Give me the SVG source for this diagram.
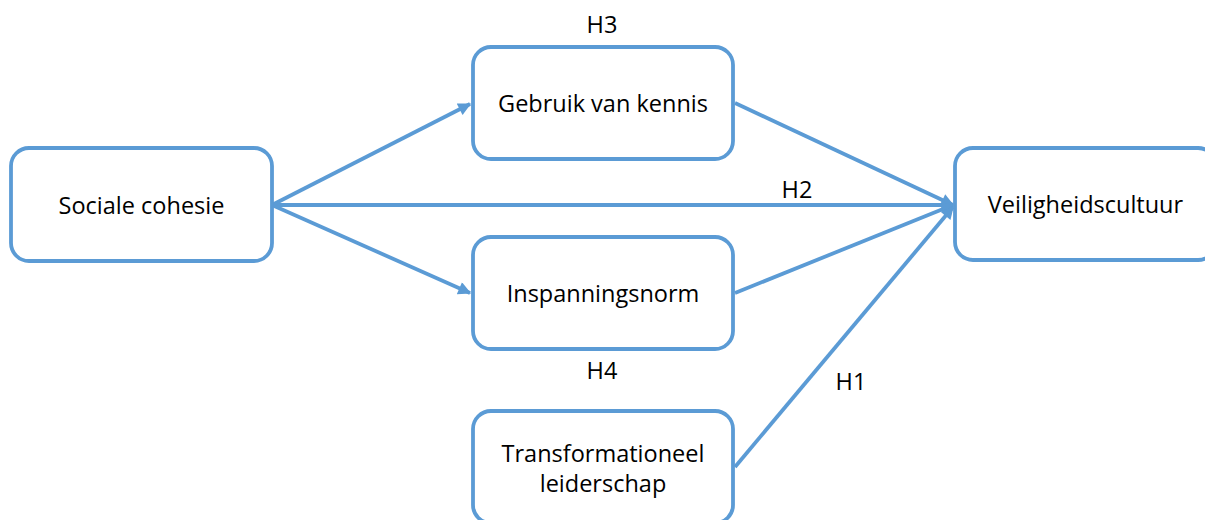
<svg xmlns="http://www.w3.org/2000/svg" width="1205" height="520" viewBox="0 0 1205 520">
<style>
.box{fill:#fff;stroke:#5B9BD5;stroke-width:3.8}
.t{font-family:"Open Sans","Liberation Sans",sans-serif;font-size:23.5px;fill:#000;text-anchor:middle}
.c{stroke:#5B9BD5;stroke-width:3.8;fill:none}
</style>
<defs>
<marker id="ah" viewBox="0 0 10 10" refX="9" refY="5" markerWidth="4" markerHeight="3.4" orient="auto" markerUnits="strokeWidth">
<path d="M0,0 L10,5 L0,10 z" fill="#5B9BD5"/>
</marker>
</defs>
<rect width="1205" height="520" fill="#fff"/>
<g id="connectors">
<line class="c" x1="272" y1="205" x2="470" y2="104" marker-end="url(#ah)"/>
<line class="c" x1="272" y1="205" x2="470" y2="293" marker-end="url(#ah)"/>
<line class="c" x1="272" y1="205" x2="953" y2="205" marker-end="url(#ah)"/>
<line class="c" x1="735" y1="103" x2="953" y2="205" marker-end="url(#ah)"/>
<line class="c" x1="735" y1="293" x2="953" y2="205" marker-end="url(#ah)"/>
<line class="c" x1="735" y1="467" x2="953" y2="207" marker-end="url(#ah)"/>
</g>
<g id="labels">
<text class="t" x="602" y="33">H3</text>
<text class="t" x="797" y="198">H2</text>
<text class="t" x="602" y="379">H4</text>
<text class="t" x="851" y="390">H1</text>
</g>
<g id="node-sociale">
<rect class="box" x="11" y="148" width="261" height="113" rx="18"/>
<text class="t" x="141.5" y="214">Sociale cohesie</text>
</g>
<g id="node-gebruik">
<rect class="box" x="473" y="47" width="260" height="112" rx="18"/>
<text class="t" x="603" y="112">Gebruik van kennis</text>
</g>
<g id="node-inspanning">
<rect class="box" x="473" y="237" width="260" height="112" rx="18"/>
<text class="t" x="603" y="302">Inspanningsnorm</text>
</g>
<g id="node-transformationeel">
<rect class="box" x="473" y="411" width="260" height="112" rx="18"/>
<text class="t" x="603" y="462">Transformationeel</text>
<text class="t" x="603" y="492">leiderschap</text>
</g>
<g id="node-veiligheid">
<rect class="box" x="955" y="148" width="261" height="112" rx="18"/>
<text class="t" x="1085.5" y="213">Veiligheidscultuur</text>
</g>
</svg>
